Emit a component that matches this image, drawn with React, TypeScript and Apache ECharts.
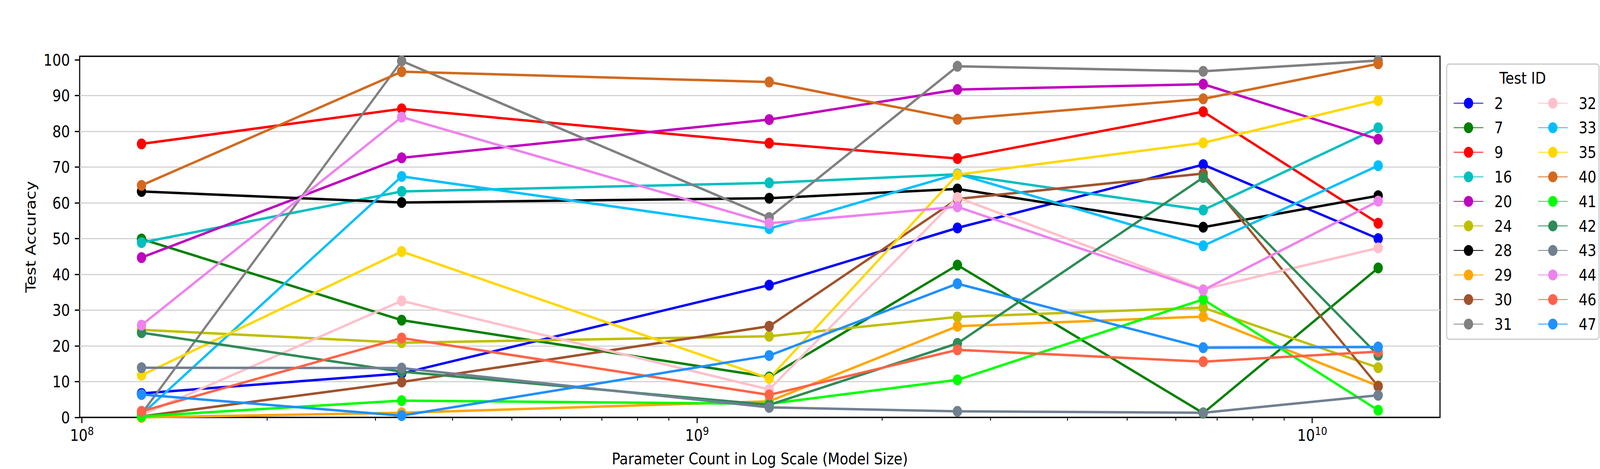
import React, { useEffect, useRef } from "react";
import * as echarts from "echarts";

// ---- data ----
const MODEL_SIZES = [1.25e8, 3.31e8, 1.31e9, 2.65e9, 6.65e9, 1.28e10];

const TEST_IDS = ["2", "7", "9", "16", "20", "24", "28", "29", "30", "31", "32", "33", "35", "40", "41", "42", "43", "44", "46", "47"];

const COLORS = [
  "#0000ff", "#008000", "#ff0000", "#00bfbf", "#bf00bf", "#bfbf00", "#000000", "#ffa500", "#a0522d", "#808080",
  "#ffc0cb", "#00bfff", "#ffd700", "#d2691e", "#00ff00", "#2e8b57", "#708090", "#ee82ee", "#ff6347", "#1e90ff",
];

const ACC_2 = [6.7, 12.3, 37.0, 53.0, 70.7, 50.0];
const ACC_7 = [49.9, 27.2, 11.3, 42.6, 1.2, 41.8];
const ACC_9 = [76.5, 86.3, 76.7, 72.4, 85.5, 54.3];
const ACC_16 = [48.9, 63.2, 65.6, 68.0, 58.0, 81.0];
const ACC_20 = [44.7, 72.6, 83.3, 91.7, 93.2, 77.8];
const ACC_24 = [24.5, 20.9, 22.7, 28.1, 30.7, 13.9];
const ACC_28 = [63.2, 60.1, 61.3, 63.9, 53.2, 62.0];
const ACC_29 = [0.0, 1.3, 4.5, 25.5, 28.2, 8.8];
const ACC_30 = [0.3, 9.9, 25.5, 61.1, 68.2, 8.7];
const ACC_31 = [1.0, 99.7, 55.9, 98.2, 96.8, 99.8];
const ACC_32 = [0.7, 32.6, 7.8, 61.5, 35.8, 47.4];
const ACC_33 = [0.8, 67.4, 52.8, 68.1, 48.0, 70.4];
const ACC_35 = [11.8, 46.4, 10.9, 67.9, 76.8, 88.6];
const ACC_40 = [64.9, 96.7, 93.8, 83.4, 89.1, 98.9];
const ACC_41 = [0.3, 4.7, 3.8, 10.5, 33.0, 2.0];
const ACC_42 = [23.7, 12.8, 3.5, 20.7, 67.1, 17.4];
const ACC_43 = [13.9, 13.8, 2.8, 1.7, 1.3, 6.2];
const ACC_44 = [25.8, 84.0, 54.3, 58.9, 35.6, 60.5];
const ACC_46 = [1.7, 22.2, 6.3, 18.9, 15.6, 18.4];
const ACC_47 = [6.4, 0.5, 17.3, 37.4, 19.5, 19.7];

const SERIES_VALUES = [
  ACC_2, ACC_7, ACC_9, ACC_16, ACC_20, ACC_24, ACC_28, ACC_29, ACC_30, ACC_31,
  ACC_32, ACC_33, ACC_35, ACC_40, ACC_41, ACC_42, ACC_43, ACC_44, ACC_46, ACC_47,
];

const X_MAJOR_TICKS = [1e8, 1e9, 1e10];
const X_MINOR_MULTIPLIERS = [2, 3, 4, 5, 6, 7, 8, 9];
const X_MINOR_DECADES = [1e7, 1e8, 1e9, 1e10];
const Y_TICKS = [0, 10, 20, 30, 40, 50, 60, 70, 80, 90, 100];
const Y_MIN = 0;
const Y_MAX = 101;

const X_TITLE = "Parameter Count in Log Scale (Model Size)";
const Y_TITLE = "Test Accuracy";
const LEGEND_TITLE = "Test ID";

const FONT = "DejaVu Sans";
const FS = 41.7;
const W = 4800;
const H = 1200;

export default function App() {
  const ref = useRef<HTMLDivElement>(null);
  const vw = typeof window !== "undefined" ? window.innerWidth : W;
  const sx = Math.min(1, vw / W);

  useEffect(() => {
    document.body.style.margin = "0";
    document.body.style.overflow = "hidden";
    if (!ref.current) return;
    const chart = echarts.init(ref.current, undefined, { renderer: "svg", width: W, height: H });

    // matplotlib-like 5% margin in log space
    const lo = Math.log10(Math.min(...MODEL_SIZES));
    const hi = Math.log10(Math.max(...MODEL_SIZES));
    const pad = 0.05 * (hi - lo);
    const xMin = Math.pow(10, lo - pad);
    const xMax = Math.pow(10, hi + pad);

    const minorTicks: number[] = [];
    X_MINOR_DECADES.forEach((d) =>
      X_MINOR_MULTIPLIERS.forEach((m) => {
        const v = d * m;
        if (v > xMin && v < xMax) minorTicks.push(v);
      })
    );

    const series = TEST_IDS.map((id, i) => ({
      name: id,
      type: "line",
      data: MODEL_SIZES.map((x, j) => [x, SERIES_VALUES[i][j]]),
      symbol: "circle",
      symbolSize: 28,
      lineStyle: { color: COLORS[i], width: 6.25 },
      itemStyle: { color: COLORS[i] },
      emphasis: { disabled: true },
      silent: true,
    }));

    const legendCommon = {
      orient: "vertical",
      itemWidth: 89,
      itemHeight: 35,
      itemGap: 20.8,
      selectedMode: false,
      textStyle: { fontFamily: FONT, fontSize: FS, color: "#000", padding: [0, 0, 0, 28] },
      z: 10,
    };

    const option: any = {
      animation: false,
      backgroundColor: "#ffffff",
      textStyle: { fontFamily: FONT },
      grid: {
        left: 239, top: 144, width: 4081, height: 924,
        show: true, borderColor: "#000", borderWidth: 3.3,
        backgroundColor: "transparent", containLabel: false,
      },
      xAxis: [
        {
          type: "log", logBase: 10, min: xMin, max: xMax, position: "bottom",
          axisLine: { show: false }, splitLine: { show: false },
          axisTick: { show: true, inside: false, length: 14.6, lineStyle: { color: "#000", width: 3.3 }, customValues: X_MAJOR_TICKS },
          axisLabel: {
            show: true, customValues: X_MAJOR_TICKS, margin: 20,
            formatter: (v: number) => `{b|10}{s|${Math.round(Math.log10(v))}}`,
            rich: {
              b: { fontFamily: FONT, fontSize: FS, color: "#000", lineHeight: 50 },
              s: { fontFamily: FONT, fontSize: 29, color: "#000", verticalAlign: "top", lineHeight: 34 },
            },
          },
          name: X_TITLE, nameLocation: "middle", nameGap: 84,
          nameTextStyle: { fontFamily: FONT, fontSize: FS, color: "#000" },
        },
        {
          type: "log", logBase: 10, min: xMin, max: xMax, position: "bottom",
          axisLine: { show: false }, splitLine: { show: false }, axisLabel: { show: false },
          axisTick: { show: true, inside: false, length: 8.3, lineStyle: { color: "#000", width: 2.5 }, customValues: minorTicks },
        },
      ],
      yAxis: {
        type: "value", min: Y_MIN, max: Y_MAX, interval: 10,
        axisLine: { show: false },
        axisTick: { show: true, inside: false, length: 14.6, lineStyle: { color: "#000", width: 3.3 }, customValues: Y_TICKS },
        axisLabel: { customValues: Y_TICKS, margin: 29, fontFamily: FONT, fontSize: FS, color: "#000" },
        splitLine: { show: true, showMinLine: false, showMaxLine: false, lineStyle: { color: "#d3d3d3", width: 3 } },
        name: Y_TITLE, nameLocation: "middle", nameGap: 126, nameRotate: 90,
        nameTextStyle: { fontFamily: FONT, fontSize: FS, color: "#000" },
      },
      legend: [
        { ...legendCommon, left: 4355, top: 238, data: TEST_IDS.slice(0, 10) },
        { ...legendCommon, left: 4608, top: 238, data: TEST_IDS.slice(10) },
      ],
      graphic: [
        {
          type: "rect", z: 5,
          shape: { x: 4340, y: 164, width: 457, height: 704, r: 8 },
          style: { fill: "#ffffff", stroke: "#d3d3d3", lineWidth: 4 },
        },
        {
          type: "text", z: 6, x: 4568, y: 199,
          style: { text: LEGEND_TITLE, fontFamily: FONT, fontSize: FS, fill: "#000", textAlign: "center", textVerticalAlign: "middle" },
        },
      ],
      series,
    };

    chart.setOption(option);
    return () => chart.dispose();
  }, []);

  return (
    <div style={{ width: W * sx, height: H, overflow: "hidden" }}>
      <div
        ref={ref}
        style={{ width: W, height: H, transform: `scaleX(${sx})`, transformOrigin: "0 0" }}
      />
    </div>
  );
}
